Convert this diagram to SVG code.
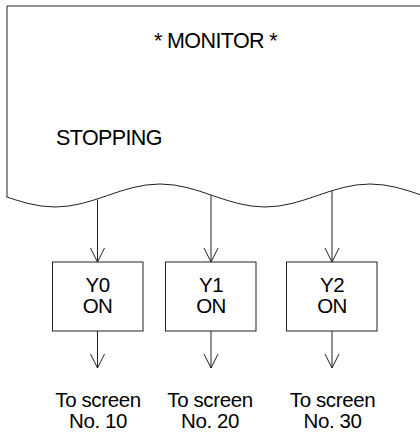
<svg xmlns="http://www.w3.org/2000/svg" width="420" height="433" viewBox="0 0 420 433">
<style>
.ln{fill:none;stroke:#222;stroke-width:1}
.box{fill:#fff;stroke:#222;stroke-width:1}
text{font-family:"Liberation Sans",Arial,sans-serif;fill:#000;text-anchor:middle}
.t{font-size:21.5px;letter-spacing:-0.6px}
.d{font-size:20.5px;letter-spacing:-0.4px}
.b{font-size:20.5px;letter-spacing:-0.6px}
</style>
<defs>
<clipPath id="frameClip"><rect x="6.5" y="0" width="420" height="433"/></clipPath>
<marker id="arr" markerWidth="16" markerHeight="16" refX="15" refY="8" orient="auto" markerUnits="userSpaceOnUse" viewBox="0 0 16 16">
<path d="M1 1 L15 8 L1 15" fill="none" stroke="#222" stroke-width="1"/>
</marker>
</defs>
<rect width="420" height="433" fill="#fff"/>
<g id="monitor">
<g clip-path="url(#frameClip)">
<path class="ln" d="M7 6 H425 M-50 184 C-11.8 184 16.8 207 55 207 C93.2 207 121.8 184 160 184 C198.2 184 226.8 207 265 207 C303.2 207 331.8 184 370 184 C408.2 184 436.8 207 475 207"/>
</g>
<path class="ln" d="M7 6 V197"/>
<text class="t" x="215.5" y="48">* MONITOR *</text>
<text class="t" x="56" y="145" style="text-anchor:start">STOPPING</text>
</g>
<g id="connectors">
<line class="ln" x1="97.5" y1="199.6" x2="97.5" y2="262" marker-end="url(#arr)"/>
<line class="ln" x1="211" y1="195" x2="211" y2="262" marker-end="url(#arr)"/>
<line class="ln" x1="332" y1="190.7" x2="332" y2="262" marker-end="url(#arr)"/>
<line class="ln" x1="97.5" y1="331" x2="97.5" y2="368" marker-end="url(#arr)"/>
<line class="ln" x1="211" y1="331" x2="211" y2="368" marker-end="url(#arr)"/>
<line class="ln" x1="332" y1="331" x2="332" y2="368" marker-end="url(#arr)"/>
</g>
<g id="y0">
<rect class="box" x="52.5" y="262" width="90.5" height="69"/>
<text class="b" x="97.5" y="292">Y0</text>
<text class="b" x="97.5" y="313">ON</text>
</g>
<g id="y1">
<rect class="box" x="165.5" y="262" width="90.5" height="69"/>
<text class="b" x="211" y="292">Y1</text>
<text class="b" x="211" y="313">ON</text>
</g>
<g id="y2">
<rect class="box" x="286.5" y="262" width="90.5" height="69"/>
<text class="b" x="332" y="292">Y2</text>
<text class="b" x="332" y="313">ON</text>
</g>
<g id="dest10">
<text class="d" x="98" y="407">To screen</text>
<text class="d" x="98" y="428">No. 10</text>
</g>
<g id="dest20">
<text class="d" x="210" y="407">To screen</text>
<text class="d" x="210" y="428">No. 20</text>
</g>
<g id="dest30">
<text class="d" x="332.5" y="407">To screen</text>
<text class="d" x="332.5" y="428">No. 30</text>
</g>
</svg>
